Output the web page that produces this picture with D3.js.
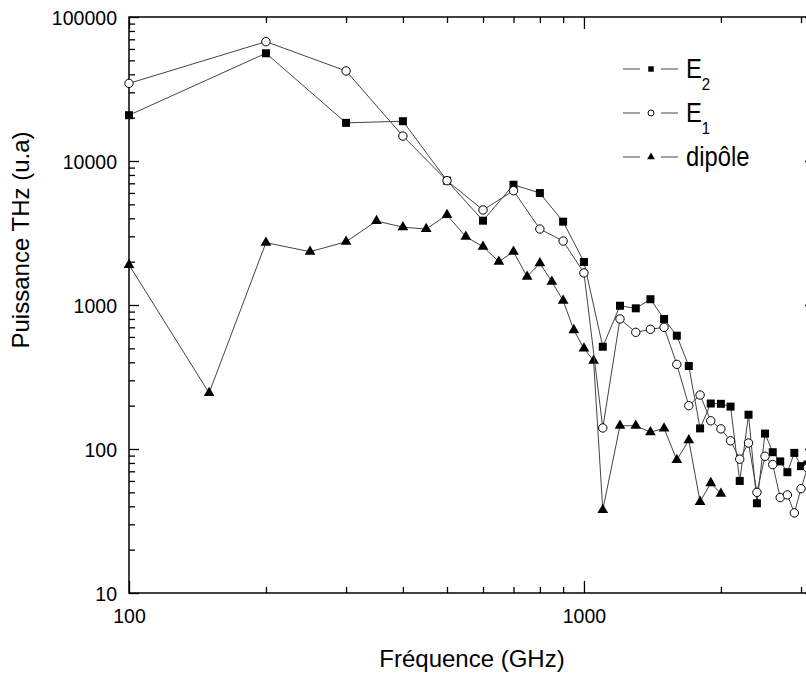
<!DOCTYPE html>
<meta charset="utf-8" />
<html>
<head>
    <style>
        body { margin: 0; }
        text { font-family: "Liberation Sans", Arial, Helvetica, sans-serif; fill: #000; }
        .frame { fill: none; stroke: #000; stroke-width: 1.5px; }
        .tick line { stroke: #000; stroke-width: 1.3px; }
        .line { fill: none; stroke: #444; stroke-width: 1px; }
    </style>
</head>
<body>
    <svg width="806" height="675"></svg>
    <script src="https://d3js.org/d3.v7.min.js"></script>
    <script>
        // frequencies (GHz) for the two E series
        var freqE = [100, 200, 300, 400, 500, 600, 700, 800, 900, 1000,
            1100, 1200, 1300, 1400, 1500, 1600, 1700, 1800, 1900, 2000,
            2100, 2200, 2300, 2400, 2500, 2600, 2700, 2800, 2900, 3000, 3100];
        var e2 = [20800, 56000, 18400, 18900, 7300, 3850, 6840, 5990, 3790, 1990,
            513, 988, 948, 1097, 800, 612, 377, 139, 207, 206,
            197, 60, 173, 42, 128, 95, 82, 69, 94, 76, 78];
        var e1 = [34600, 67400, 42200, 14900, 7300, 4570, 6220, 3370, 2780, 1670,
            140, 800, 646, 678, 700, 387, 200, 237, 157, 138,
            114, 85, 110, 50, 89, 78, 46, 48, 36, 53, 74];

        var freqDip = [100, 150, 200, 250, 300, 350, 400, 450, 500, 550,
            600, 650, 700, 750, 800, 850, 900, 950, 1000, 1050,
            1100, 1200, 1300, 1400, 1500, 1600, 1700, 1800, 1900, 2000];
        var dipole = [1900, 245, 2710, 2345, 2750, 3830, 3470, 3370, 4220, 2980,
            2540, 2000, 2345, 1574, 1950, 1452, 1072, 670, 500, 410,
            37.7, 145, 145, 131, 139, 84, 115, 43, 58, 49];

        var xTickLabels = [100, 1000];
        var yTickLabels = [10, 100, 1000, 10000, 100000];
        var legendNames = [["E", "2"], ["E", "1"], ["dipôle", ""]];

        var svg = d3.select("svg");
        var pLeft = 129, pRight = 815, pTop = 17, pBottom = 593;

        var x = d3.scaleLog().domain([100, 3220]).range([pLeft, pRight]);
        var y = d3.scaleLog().domain([10, 100000]).range([pBottom, pTop]);

        // minor ticks 2..9 per decade
        var xMinor = [], yMinor = [];
        [100, 1000].forEach(function (d) {
            for (var k = 2; k <= 9; k++) if (d * k < 3220) xMinor.push(d * k);
        });
        [10, 100, 1000, 10000].forEach(function (d) {
            for (var k = 2; k <= 9; k++) yMinor.push(d * k);
        });

        function noDomain(g) { g.select(".domain").remove(); }

        // bottom
        svg.append("g").attr("transform", "translate(0," + pBottom + ")")
            .call(d3.axisBottom(x).tickValues(xMinor).tickSizeInner(-6).tickSizeOuter(0).tickFormat(""))
            .call(noDomain);
        var bx = svg.append("g").attr("transform", "translate(0," + pBottom + ")")
            .call(d3.axisBottom(x).tickValues(xTickLabels).tickSizeInner(-12).tickSizeOuter(0)
                .tickPadding(15).tickFormat(d3.format("d")))
            .call(noDomain);
        // top
        svg.append("g").attr("transform", "translate(0," + pTop + ")")
            .call(d3.axisTop(x).tickValues(xMinor).tickSizeInner(-6).tickSizeOuter(0).tickFormat(""))
            .call(noDomain);
        svg.append("g").attr("transform", "translate(0," + pTop + ")")
            .call(d3.axisTop(x).tickValues(xTickLabels).tickSizeInner(-12).tickSizeOuter(0).tickFormat(""))
            .call(noDomain);
        // left
        svg.append("g").attr("transform", "translate(" + pLeft + ",0)")
            .call(d3.axisLeft(y).tickValues(yMinor).tickSizeInner(-6).tickSizeOuter(0).tickFormat(""))
            .call(noDomain);
        var ly = svg.append("g").attr("transform", "translate(" + pLeft + ",0)")
            .call(d3.axisLeft(y).tickValues(yTickLabels).tickSizeInner(-10).tickSizeOuter(0)
                .tickPadding(12).tickFormat(d3.format("d")))
            .call(noDomain);
        // right
        svg.append("g").attr("transform", "translate(" + pRight + ",0)")
            .call(d3.axisRight(y).tickValues(yMinor).tickSizeInner(-6).tickSizeOuter(0).tickFormat(""))
            .call(noDomain);
        svg.append("g").attr("transform", "translate(" + pRight + ",0)")
            .call(d3.axisRight(y).tickValues(yTickLabels).tickSizeInner(-10).tickSizeOuter(0).tickFormat(""))
            .call(noDomain);

        bx.selectAll("text").attr("font-size", 21).attr("font-family", null)
            .attr("transform", "scale(0.93,1)");
        ly.selectAll("text").attr("font-size", 21).attr("font-family", null)
            .attr("x", 0).attr("dy", "0.36em")
            .attr("transform", "translate(-12,0) scale(0.93,1)");

        svg.append("rect").attr("class", "frame")
            .attr("x", pLeft).attr("y", pTop)
            .attr("width", pRight - pLeft).attr("height", pBottom - pTop);

        // axis titles
        svg.append("text")
            .attr("x", 472).attr("y", 667)
            .attr("text-anchor", "middle").attr("font-size", 24)
            .text("Fréquence (GHz)");
        svg.append("text")
            .attr("transform", "translate(29,240) rotate(-90)")
            .attr("text-anchor", "middle").attr("font-size", 24)
            .text("Puissance THz (u.a)");

        var line = d3.line()
            .x(function (d) { return x(d[0]); })
            .y(function (d) { return y(d[1]); });

        function pairs(fx, vals) {
            return fx.map(function (f, i) { return [f, vals[i]]; });
        }

        var plot = svg.append("g");

        function drawSeries(data, shape) {
            plot.append("path").datum(data).attr("class", "line").attr("d", line);
            var g = plot.append("g");
            if (shape === "circle") {
                g.selectAll("circle").data(data).enter().append("circle")
                    .attr("cx", function (d) { return x(d[0]); })
                    .attr("cy", function (d) { return y(d[1]); })
                    .attr("r", 4.2)
                    .attr("fill", "#fff").attr("stroke", "#000").attr("stroke-width", 1);
            } else {
                var sym = shape === "square"
                    ? d3.symbol(d3.symbolSquare, 64)
                    : d3.symbol(d3.symbolTriangle, 50);
                g.selectAll("path").data(data).enter().append("path")
                    .attr("d", sym)
                    .attr("transform", function (d) { return "translate(" + x(d[0]) + "," + y(d[1]) + ")"; })
                    .attr("fill", "#000");
            }
        }

        drawSeries(pairs(freqDip, dipole), "triangle");
        drawSeries(pairs(freqE, e2), "square");
        drawSeries(pairs(freqE, e1), "circle");

        // legend
        var shapes = ["square", "circle", "triangle"];
        var legend = svg.append("g");
        legendNames.forEach(function (name, i) {
            var cy = 69 + i * 44;
            var row = legend.append("g");
            row.append("line").attr("x1", 623).attr("x2", 640).attr("y1", cy).attr("y2", cy)
                .attr("stroke", "#444");
            row.append("line").attr("x1", 661).attr("x2", 678).attr("y1", cy).attr("y2", cy)
                .attr("stroke", "#444");
            if (shapes[i] === "circle") {
                row.append("circle").attr("cx", 651).attr("cy", cy).attr("r", 3)
                    .attr("fill", "#fff").attr("stroke", "#000");
            } else {
                row.append("path")
                    .attr("d", d3.symbol(shapes[i] === "square" ? d3.symbolSquare : d3.symbolTriangle,
                        shapes[i] === "square" ? 30 : 26))
                    .attr("transform", "translate(651," + cy + ")");
            }
            var t = row.append("text")
                .attr("transform", "translate(686," + (cy + 9) + ") scale(0.88,1)")
                .attr("font-size", 27);
            t.append("tspan").text(name[0]);
            if (name[1]) {
                t.append("tspan").attr("dy", 12).attr("font-size", 17).text(name[1]);
            }
        });
    </script>
</body>
</html>
